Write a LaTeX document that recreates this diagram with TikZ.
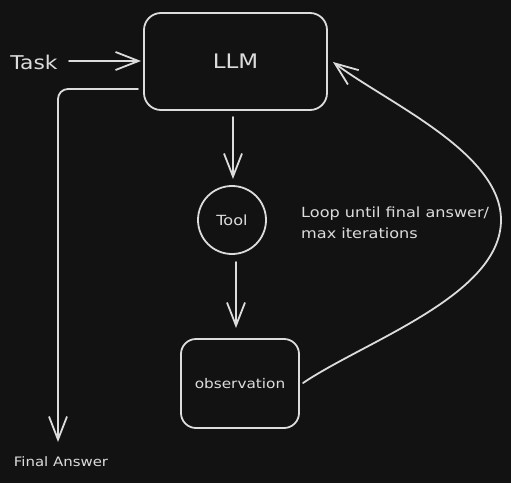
\documentclass[tikz,border=0pt]{standalone}
\usepackage{fontspec}
\newfontfamily\hand[FakeStretch=1.15]{DejaVu Sans}
\usetikzlibrary{arrows.meta}
\definecolor{bgc}{HTML}{121212}
\definecolor{inkc}{HTML}{DCDCDC}
\begin{document}
\begin{tikzpicture}[x=1pt,y=1pt,
  ink/.style={draw=inkc, line width=1.8pt, line cap=round, line join=round},
  box/.style={ink, rounded corners=17pt, inner sep=0pt},
  arr/.style={ink, -{Straight Barb[length=23pt,width=18pt,line width=1.8pt]}},
  lbl/.style={text=inkc, font=\hand, inner sep=0pt}]
\fill[bgc] (0,0) rectangle (511,483);
\useasboundingbox (0,0) rectangle (511,483);
\node[box, minimum width=183pt, minimum height=97pt] (llm) at (235.5,421.5) {};
\node[lbl, font=\hand\fontsize{20}{22}\selectfont] (llmt) at (llm.center) {LLM};
\node[lbl, font=\hand\fontsize{19}{22}\selectfont] (task) at (34,421) {Task};
\node[ink, circle, minimum size=68pt, inner sep=0pt] (tool) at (232,263) {};
\node[lbl, font=\hand\fontsize{14}{16}\selectfont] (toolt) at (tool.center) {Tool};
\node[box, rounded corners=15pt, minimum width=118pt, minimum height=89pt] (obs) at (240,99.5) {};
\node[lbl, font=\hand\fontsize{13.3}{15}\selectfont] (obst) at (obs.center) {observation};
\node[lbl, font=\hand\fontsize{14}{21}\selectfont, anchor=north west, align=left] (loop) at (301,276) {Loop until final answer/\\max iterations};
\node[lbl, font=\hand\fontsize{13}{15}\selectfont] (fa) at (61,21) {Final Answer};
\coordinate (fs) at (138,394);
\coordinate (fe) at (58,41);
\coordinate (ls) at (303,100);
\coordinate (lm) at (501,263);
\coordinate (le) at (333,421);
\coordinate (t1) at (233,366);
\coordinate (t2) at (233,304);
\coordinate (o1) at (236,221);
\coordinate (o2) at (236,155);
\draw[arr] (69,422) -- (141,422);
\draw[arr, rounded corners=10pt] (fs) -- (fs -| fe) -- (fe);
\draw[arr] (t1) -- (t2);
\draw[arr] (o1) -- (o2);
\draw[arr] (ls) to[out=34,in=-90,looseness=0.75] (lm) to[out=90,in=-37,looseness=0.75] (le);
\end{tikzpicture}
\end{document}
